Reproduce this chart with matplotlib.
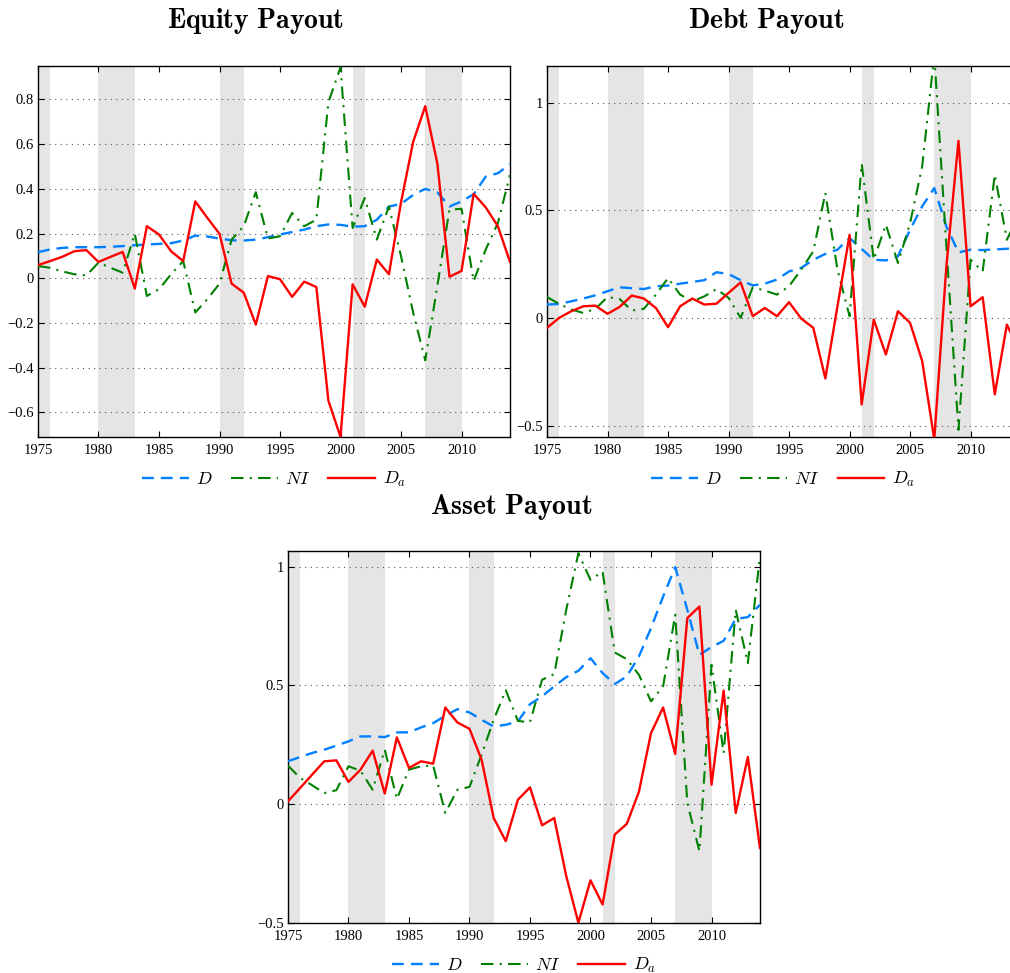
import matplotlib.pyplot as plt

plt.rcParams['font.family'] = ['Liberation Serif', 'DejaVu Serif']
plt.rcParams['mathtext.fontset'] = 'cm'

years = list(range(1975, 2015))
recessions = [(1975, 1976), (1980, 1983), (1990, 1992), (2001, 2002), (2007, 2010)]

# Equity payout
eq_D = [0.117, 0.129, 0.136, 0.139, 0.139, 0.139, 0.141, 0.144, 0.148, 0.151,
        0.154, 0.157, 0.169, 0.191, 0.187, 0.178, 0.170, 0.169, 0.173, 0.184,
        0.196, 0.207, 0.218, 0.233, 0.241, 0.239, 0.231, 0.233, 0.262, 0.321,
        0.333, 0.373, 0.400, 0.385, 0.321, 0.344, 0.376, 0.455, 0.470, 0.510]
eq_NI = [0.055, 0.047, 0.031, 0.018, 0.013, 0.070, 0.047, 0.025, 0.200, -0.079,
         -0.049, 0.018, 0.077, -0.153, -0.093, -0.024, 0.173, 0.233, 0.385, 0.178,
         0.188, 0.292, 0.233, 0.262, 0.788, 0.944, 0.225, 0.359, 0.173, 0.321,
         0.099, -0.153, -0.367, -0.034, 0.307, 0.311, -0.012, 0.129, 0.247, 0.462]
eq_Da = [0.059, 0.077, 0.096, 0.121, 0.126, 0.073, 0.096, 0.118, -0.046, 0.233,
         0.196, 0.121, 0.077, 0.344, 0.270, 0.199, -0.024, -0.064, -0.207, 0.010,
         -0.004, -0.083, -0.015, -0.039, -0.548, -0.710, -0.027, -0.127, 0.084, 0.018,
         0.340, 0.610, 0.770, 0.514, 0.007, 0.033, 0.378, 0.317, 0.233, 0.074]

# Debt payout
debt_D = [0.062, 0.065, 0.077, 0.090, 0.105, 0.124, 0.142, 0.138, 0.134, 0.147,
          0.150, 0.159, 0.167, 0.175, 0.212, 0.204, 0.175, 0.151, 0.159, 0.178,
          0.216, 0.232, 0.270, 0.297, 0.317, 0.371, 0.320, 0.270, 0.267, 0.286,
          0.410, 0.518, 0.603, 0.425, 0.304, 0.317, 0.315, 0.318, 0.321, 0.325]
debt_NI = [0.097, 0.065, 0.039, 0.023, 0.042, 0.097, 0.088, 0.034, 0.042, 0.108,
           0.185, 0.108, 0.077, 0.100, 0.134, 0.093, 0.000, 0.142, 0.127, 0.108,
           0.147, 0.224, 0.309, 0.580, 0.224, 0.008, 0.716, 0.270, 0.433, 0.255,
           0.440, 0.703, 1.220, 0.332, -0.520, 0.270, 0.216, 0.665, 0.363, 0.480]
debt_Da = [-0.046, 0.000, 0.031, 0.054, 0.057, 0.019, 0.051, 0.104, 0.090, 0.046,
           -0.043, 0.054, 0.090, 0.062, 0.066, 0.116, 0.165, 0.008, 0.046, 0.008,
           0.073, -0.003, -0.046, -0.281, 0.054, 0.386, -0.402, -0.008, -0.170, 0.031,
           -0.023, -0.200, -0.564, 0.240, 0.822, 0.054, 0.096, -0.355, -0.031, -0.150]

# Asset payout
asset_D = [0.180, 0.198, 0.215, 0.229, 0.246, 0.264, 0.285, 0.285, 0.282, 0.302,
           0.302, 0.323, 0.341, 0.372, 0.400, 0.386, 0.355, 0.327, 0.334, 0.348,
           0.421, 0.454, 0.496, 0.535, 0.562, 0.615, 0.552, 0.506, 0.538, 0.622,
           0.742, 0.875, 0.999, 0.819, 0.629, 0.662, 0.688, 0.781, 0.788, 0.840]
asset_NI = [0.162, 0.110, 0.079, 0.046, 0.058, 0.159, 0.140, 0.060, 0.229, 0.021,
            0.145, 0.159, 0.162, -0.038, 0.060, 0.072, 0.208, 0.355, 0.480, 0.350,
            0.345, 0.524, 0.548, 0.820, 1.058, 0.945, 0.980, 0.639, 0.611, 0.545,
            0.433, 0.496, 0.798, 0.004, -0.199, 0.587, 0.215, 0.819, 0.594, 1.044]
asset_Da = [0.011, 0.067, 0.124, 0.180, 0.184, 0.093, 0.145, 0.225, 0.044, 0.281,
            0.152, 0.180, 0.170, 0.407, 0.344, 0.317, 0.187, -0.059, -0.157, 0.018,
            0.070, -0.090, -0.059, -0.305, -0.501, -0.322, -0.424, -0.129, -0.084, 0.051,
            0.299, 0.407, 0.211, 0.784, 0.833, 0.081, 0.478, -0.038, 0.198, -0.185]

xticks = [1975, 1980, 1985, 1990, 1995, 2000, 2005, 2010]
eq_yticks = [-0.6, -0.4, -0.2, 0, 0.2, 0.4, 0.6, 0.8]
eq_ylabels = ['\u22120.6', '\u22120.4', '\u22120.2', '0', '0.2', '0.4', '0.6', '0.8']
half_yticks = [-0.5, 0, 0.5, 1]
half_ylabels = ['\u22120.5', '0', '0.5', '1']


def panel(rect, D, NI, Da, ylim, yticks, ylabels, title, title_x, title_y):
    ax = fig.add_axes(rect)
    for a, b in recessions:
        ax.axvspan(a, b, color='#e5e5e5', lw=0, zorder=0)
    ax.plot(years, D, color='#0080ff', lw=1.7, dashes=(5, 3), label='$D$', zorder=3)
    ax.plot(years, NI, color='#008000', lw=1.5, dashes=(6, 3, 1, 3), label='$NI$', zorder=3)
    ax.plot(years, Da, color='#ff0000', lw=1.7, label='$D_a$', zorder=4)
    ax.set_xlim(1975, 2014)
    ax.set_ylim(*ylim)
    ax.set_xticks(xticks)
    ax.set_yticks(yticks)
    ax.set_yticklabels(ylabels)
    ax.tick_params(direction='in', top=True, right=True, labelsize=10.5,
                   length=4, width=0.8, pad=3)
    ax.tick_params(axis='x', pad=5)
    ax.grid(axis='y', color='#555555', linestyle=(0, (1, 4)), lw=0.8)
    ax.set_axisbelow(False)
    for s in ax.spines.values():
        s.set_linewidth(1.0)
    ax.legend(loc='upper center', bbox_to_anchor=(0.5, -0.045), ncol=3,
              frameon=False, fontsize=13, handlelength=2.6, columnspacing=1.0,
              handletextpad=0.4)
    fig.text(title_x, title_y, title, ha='center', va='center', fontsize=20)
    return ax


fig = plt.figure(figsize=(10.1, 9.73), dpi=100)

panel([0.0376, 0.5509, 0.4673, 0.3813], eq_D, eq_NI, eq_Da, (-0.71, 0.95),
      eq_yticks, eq_ylabels, r'$\mathbf{Equity\ Payout}$', 256 / 1010, 1 - 21 / 973)
panel([0.5416, 0.5509, 0.4673, 0.3813], debt_D, debt_NI, debt_Da, (-0.553, 1.17),
      half_yticks, half_ylabels, r'$\mathbf{Debt\ Payout}$', 766 / 1010, 1 - 21 / 973)
panel([0.2851, 0.0514, 0.4673, 0.3823], asset_D, asset_NI, asset_Da, (-0.502, 1.067),
      half_yticks, half_ylabels, r'$\mathbf{Asset\ Payout}$', 511 / 1010, 1 - 507 / 973)

fig.savefig('out.png', dpi=100)
